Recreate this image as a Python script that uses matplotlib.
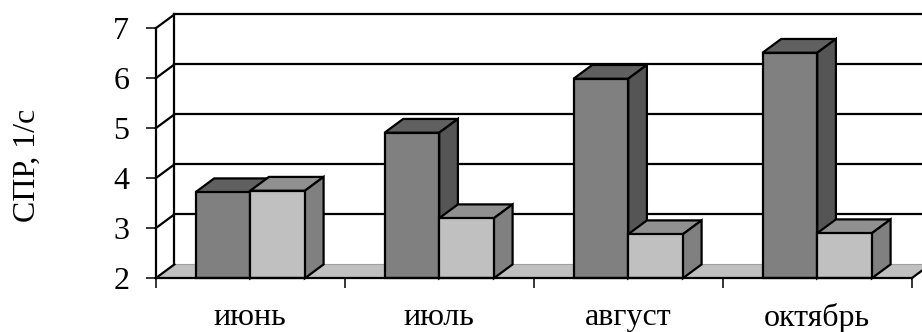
import matplotlib
matplotlib.use("Agg")
import matplotlib.pyplot as plt
from matplotlib.patches import Polygon

plt.rcParams['font.family'] = ['Liberation Serif', 'DejaVu Serif']

meses = ["июнь", "июль", "август", "октябрь"]
serie_oscura = [3.72, 4.91, 5.99, 6.51]
serie_clara = [3.75, 3.20, 2.88, 2.90]
niveles = [2, 3, 4, 5, 6, 7]

W, H = 922, 332
negro = "#000000"
lw = 1.6

# profundidad del efecto 3d, en unidades de datos
prof_x = 18.7 / 189.0
prof_y = 13.8 / 49.9
ancho = 54.7 / 189.0


def caja(ax, x, valor, frente, arriba, lado, z):
    # cara superior y lateral a mano, el frente es una barra normal
    ax.add_patch(Polygon([(x, valor), (x + prof_x, valor + prof_y),
                          (x + ancho + prof_x, valor + prof_y), (x + ancho, valor)],
                         fc=arriba, ec=negro, lw=lw, zorder=z, clip_on=False, joinstyle="miter"))
    ax.add_patch(Polygon([(x + ancho, 2), (x + ancho + prof_x, 2 + prof_y),
                          (x + ancho + prof_x, valor + prof_y), (x + ancho, valor)],
                         fc=lado, ec=negro, lw=lw, zorder=z, clip_on=False, joinstyle="miter"))
    ax.bar(x, valor - 2, width=ancho, bottom=2, align="edge", color=frente,
           edgecolor=negro, linewidth=lw, zorder=z + 0.5, clip_on=False)


fig = plt.figure(figsize=(W / 100, H / 100), dpi=100)
ax = fig.add_axes([155.7 / W, 1 - 278.2 / H, (911.7 - 155.7) / W, (278.2 - 28.3) / H])
ax.set_xlim(0, len(meses))
ax.set_ylim(niveles[0], niveles[-1])

# piso
n = len(meses)
ax.add_patch(Polygon([(0, 2), (prof_x, 2 + prof_y), (n + prof_x, 2 + prof_y), (n, 2)],
                     fc="#c0c0c0", ec="none", zorder=1, clip_on=False))
ax.plot([prof_x, n + prof_x], [2 + prof_y, 2 + prof_y], color="#a0a0a0", lw=0.8, zorder=1.1, clip_on=False)
ax.plot([n, n + prof_x], [2, 2 + prof_y], color=negro, lw=lw, zorder=1.2, clip_on=False)

# pared del fondo y lineas de grilla
ax.plot([prof_x, prof_x], [2 + prof_y, 7 + prof_y], color=negro, lw=lw, zorder=2, clip_on=False)
for v in niveles:
    ax.plot([0, prof_x], [v, v + prof_y], color=negro, lw=lw, zorder=2, clip_on=False)
    if v > 2:
        ax.plot([prof_x, n + prof_x], [v + prof_y, v + prof_y], color=negro, lw=lw, zorder=2, clip_on=False)

for i in range(n):
    x0 = i + 0.5 - ancho
    caja(ax, x0, serie_oscura[i], "#808080", "#606060", "#555555", 10 + i * 2)
    caja(ax, x0 + ancho, serie_clara[i], "#c0c0c0", "#909090", "#808080", 11 + i * 2)

for lado in ["top", "right"]:
    ax.spines[lado].set_visible(False)
for lado in ["left", "bottom"]:
    ax.spines[lado].set_linewidth(lw)
    ax.spines[lado].set_zorder(30)

ax.set_yticks(niveles)
ax.tick_params(axis="y", length=7, width=1.1, pad=12, labelsize=23)
ax.set_xticks(range(n + 1))
ax.set_xticklabels([])
ax.tick_params(axis="x", which="major", length=7, width=1.1)
ax.set_xticks([i + 0.5 for i in range(n)], minor=True)
ax.set_xticklabels(meses, minor=True, fontsize=23)
ax.tick_params(axis="x", which="minor", length=0, pad=17.5)

fig.text(27 / W, 1 - 165 / H, "СПР, 1/с", rotation=90, fontsize=23, ha="center", va="center")

fig.savefig("out.png", dpi=100)
